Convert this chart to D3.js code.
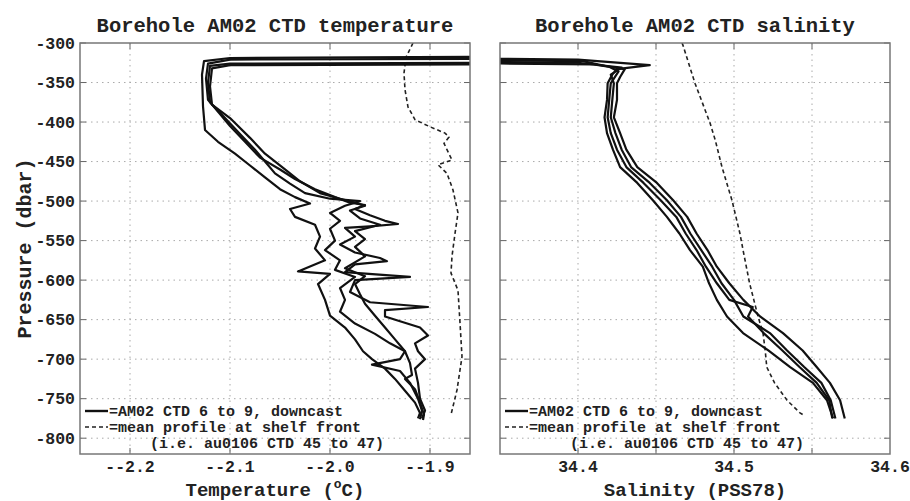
<!DOCTYPE html>
<html>
<head>
<meta charset="utf-8">
<script src="https://cdn.jsdelivr.net/npm/d3@7.9.0/dist/d3.min.js"></script>
<style>
  body { margin: 0; background: #fff; }
  text { font-family: "Courier New", "Liberation Mono", monospace; font-weight: bold; fill: #222; }
</style>
</head>
<body>
<svg id="chart" width="910" height="501"></svg>
<script>
// ---- data ----
const pressureTicks = [-300, -350, -400, -450, -500, -550, -600, -650, -700, -750, -800];
const tempTicks     = [-2.2, -2.1, -2.0, -1.9];
const tempTickLabels = ['--2.2', '--2.1', '--2.0', '--1.9'];
const salTicks      = [34.4, 34.5, 34.6];
const salTickLabels = ['34.4', '34.5', '34.6'];
const salGrid       = [34.4, 34.45, 34.5, 34.55];

// temperature casts, [T, p]
const tempCast6 = [[-1.60,-316],[-2.10,-319],[-2.126,-323],[-2.128,-340],[-2.127,-380],[-2.125,-410],[-2.112,-425],
  [-2.095,-440],[-2.08,-455],[-2.065,-470],[-2.05,-485],[-2.035,-495],[-2.02,-503],[-2.04,-510],[-2.035,-520],
  [-2.015,-530],[-2.01,-545],[-2.015,-560],[-2.005,-575],[-2.032,-589],[-2.0,-592],[-2.012,-605],[-2.005,-625],
  [-2.0,-645],[-1.985,-660],[-1.975,-675],[-1.967,-690],[-1.958,-700],[-1.945,-712],[-1.935,-725],[-1.925,-740],
  [-1.915,-755],[-1.91,-768],[-1.912,-775]];
const tempCast7 = [[-1.40,-318],[-2.10,-321],[-2.122,-326],[-2.124,-345],[-2.122,-372],[-2.11,-390],[-2.10,-405],
  [-2.085,-425],[-2.07,-445],[-2.05,-460],[-2.035,-472],[-2.015,-485],[-1.995,-495],[-1.98,-502],[-1.965,-505],
  [-1.975,-510],[-1.96,-518],[-1.945,-525],[-1.932,-529],[-1.96,-532],[-1.985,-534],[-1.975,-545],[-1.99,-555],
  [-1.975,-565],[-1.95,-572],[-1.943,-576],[-1.975,-580],[-1.985,-590],[-1.92,-596],[-1.975,-600],[-1.98,-615],
  [-1.96,-628],[-1.902,-634],[-1.945,-638],[-1.945,-646],[-1.93,-652],[-1.91,-660],[-1.902,-670],[-1.915,-680],
  [-1.912,-690],[-1.905,-700],[-1.915,-712],[-1.912,-730],[-1.91,-750],[-1.905,-765],[-1.908,-775]];
const tempCast8 = [[-1.50,-324],[-2.10,-326],[-2.12,-329],[-2.122,-350],[-2.12,-375],[-2.105,-395],[-2.09,-415],
  [-2.075,-435],[-2.065,-450],[-2.055,-465],[-2.04,-478],[-2.025,-490],[-2.0,-497],[-1.97,-500],[-1.985,-506],
  [-2.0,-515],[-1.99,-525],[-2.0,-535],[-1.995,-550],[-2.005,-562],[-1.99,-575],[-1.995,-587],[-1.975,-596],
  [-1.99,-610],[-1.985,-625],[-1.99,-640],[-1.975,-655],[-1.955,-668],[-1.94,-680],[-1.925,-690],[-1.93,-700],
  [-1.958,-707],[-1.93,-715],[-1.92,-730],[-1.912,-750],[-1.908,-765],[-1.91,-776]];
const tempCast9 = [[-1.50,-326],[-2.10,-328],[-2.118,-332],[-2.12,-355],[-2.118,-378],[-2.1,-395],[-2.08,-420],
  [-2.065,-440],[-2.045,-460],[-2.03,-475],[-2.01,-490],[-1.99,-497],[-1.975,-502],[-1.965,-506],[-1.98,-512],
  [-1.97,-522],[-1.95,-530],[-1.975,-538],[-1.965,-548],[-1.975,-558],[-1.965,-570],[-1.985,-585],[-1.965,-595],
  [-1.975,-605],[-1.97,-618],[-1.965,-630],[-1.955,-645],[-1.945,-660],[-1.935,-675],[-1.925,-690],[-1.92,-705],
  [-1.918,-720],[-1.925,-725],[-1.915,-738],[-1.91,-755],[-1.906,-770],[-1.907,-777]];
const tempMean = [[-1.917,-300],[-1.924,-318],[-1.926,-338],[-1.925,-359],[-1.922,-381],[-1.915,-397],[-1.900,-406],
  [-1.885,-414],[-1.881,-419],[-1.886,-427],[-1.883,-435],[-1.878,-448],[-1.892,-454],[-1.883,-465],[-1.877,-486],
  [-1.872,-515],[-1.875,-541],[-1.878,-570],[-1.879,-591],[-1.872,-613],[-1.870,-654],[-1.868,-697],[-1.873,-739],
  [-1.878,-765],[-1.879,-770]];

// salinity casts, [S, p]
const salCast6 = [[34.25,-318],[34.40,-321],[34.446,-328],[34.425,-333],[34.422,-340],[34.419,-351],[34.4186,-372],
  [34.417,-394],[34.4186,-414],[34.4224,-435],[34.427,-457],[34.438,-477],[34.448,-499],[34.457,-520],[34.465,-541],
  [34.4718,-562],[34.480,-583],[34.484,-604],[34.489,-625],[34.4955,-646],[34.5058,-667],[34.522,-689],[34.536,-710],
  [34.5506,-730],[34.5596,-752],[34.5635,-775]];
const salCast7 = [[34.25,-320],[34.403,-323],[34.42,-330],[34.426,-336],[34.421,-351],[34.420,-372],[34.419,-394],
  [34.421,-414],[34.425,-435],[34.431,-457],[34.442,-477],[34.453,-499],[34.463,-520],[34.469,-541],[34.476,-562],
  [34.482,-583],[34.489,-604],[34.497,-625],[34.512,-634],[34.509,-646],[34.519,-667],[34.531,-689],[34.542,-710],
  [34.553,-730],[34.561,-752],[34.563,-775]];
const salCast8 = [[34.25,-322],[34.40,-325],[34.428,-331],[34.421,-340],[34.423,-351],[34.422,-372],[34.421,-394],
  [34.424,-414],[34.428,-435],[34.434,-457],[34.446,-477],[34.457,-499],[34.466,-520],[34.472,-541],[34.479,-562],
  [34.486,-583],[34.492,-604],[34.500,-625],[34.506,-646],[34.523,-667],[34.534,-689],[34.545,-710],[34.556,-730],
  [34.562,-752],[34.565,-775]];
const salCast9 = [[34.25,-324],[34.41,-327],[34.43,-333],[34.427,-343],[34.425,-351],[34.425,-372],[34.423,-394],
  [34.427,-414],[34.431,-435],[34.438,-457],[34.4506,-477],[34.461,-499],[34.470,-520],[34.476,-541],[34.483,-562],
  [34.489,-583],[34.497,-604],[34.506,-625],[34.5167,-646],[34.5314,-667],[34.544,-689],[34.553,-710],
  [34.5615,-730],[34.568,-752],[34.571,-775]];
const salMean = [[34.4667,-300],[34.4673,-303],[34.475,-351],[34.4846,-401],[34.488,-423],[34.4923,-457],
  [34.4987,-499],[34.5038,-541],[34.5058,-562],[34.510,-604],[34.5154,-646],[34.5186,-667],[34.520,-689],
  [34.521,-710],[34.526,-730],[34.534,-752],[34.5423,-768],[34.544,-770]];

const legendLines = ['=AM02 CTD 6 to 9, downcast', '=mean profile at shelf front', '(i.e. au0106 CTD 45 to 47)'];

// ---- layout ----
const plotTop = 43, plotBottom = 454;
const svg = d3.select('#chart');
const y  = d3.scaleLinear().domain([-820, -300]).range([plotBottom, plotTop]);
const xT = d3.scaleLinear().domain([-2.25, -1.86]).range([80, 470]);
const xS = d3.scaleLinear().domain([34.35, 34.6]).range([500, 890]);

function drawPanel(id, x, gridX, ticks, tickLabels, casts, mean, title, xlabel) {
  const [x0, x1] = x.range();
  const g = svg.append('g');

  svg.append('clipPath').attr('id', 'clip-' + id)
    .append('rect').attr('x', x0).attr('y', plotTop).attr('width', x1 - x0).attr('height', plotBottom - plotTop);

  // dotted grid
  g.selectAll('.gx').data(gridX).join('line')
    .attr('x1', d => x(d)).attr('x2', d => x(d)).attr('y1', plotTop).attr('y2', plotBottom)
    .attr('stroke', '#aaa').attr('stroke-width', 1).attr('stroke-dasharray', '1.5,4');
  g.selectAll('.gy').data(pressureTicks.slice(1)).join('line')
    .attr('x1', x0).attr('x2', x1).attr('y1', d => y(d)).attr('y2', d => y(d))
    .attr('stroke', '#aaa').attr('stroke-width', 1).attr('stroke-dasharray', '1.5,4');

  // inward ticks on all sides
  gridX.forEach(d => {
    g.append('line').attr('x1', x(d)).attr('x2', x(d)).attr('y1', plotTop).attr('y2', plotTop + 6).attr('stroke', '#666');
    g.append('line').attr('x1', x(d)).attr('x2', x(d)).attr('y1', plotBottom).attr('y2', plotBottom - 6).attr('stroke', '#666');
  });
  pressureTicks.forEach(d => {
    g.append('line').attr('x1', x0).attr('x2', x0 + 6).attr('y1', y(d)).attr('y2', y(d)).attr('stroke', '#666');
    g.append('line').attr('x1', x1).attr('x2', x1 - 6).attr('y1', y(d)).attr('y2', y(d)).attr('stroke', '#666');
  });

  const line = d3.line().x(d => x(d[0])).y(d => y(d[1]));
  const lines = g.append('g').attr('clip-path', `url(#clip-${id})`);
  lines.append('path').attr('d', line(mean))
    .attr('fill', 'none').attr('stroke', '#222').attr('stroke-width', 1.6).attr('stroke-dasharray', '4,3');
  casts.forEach(c => {
    lines.append('path').attr('d', line(c))
      .attr('fill', 'none').attr('stroke', '#111').attr('stroke-width', 2.2).attr('stroke-linejoin', 'round');
  });

  // frame
  g.append('rect').attr('x', x0).attr('y', plotTop).attr('width', x1 - x0).attr('height', plotBottom - plotTop)
    .attr('fill', 'none').attr('stroke', '#777').attr('stroke-width', 1.5);

  // tick labels
  g.selectAll('.tl').data(ticks).join('text')
    .attr('x', d => x(d)).attr('y', 472).attr('text-anchor', 'middle')
    .style('font-size', '16.5px').text((d, i) => tickLabels[i]);

  const cx = (x0 + x1) / 2;
  g.append('text').attr('x', cx).attr('y', 32).attr('text-anchor', 'middle')
    .style('font-size', '20.5px').text(title);
  const xl = g.append('text').attr('x', cx).attr('y', 496).attr('text-anchor', 'middle').style('font-size', '19px');
  xlabel(xl);

  // legend
  g.append('line').attr('x1', x0 + 5).attr('x2', x0 + 28).attr('y1', 411).attr('y2', 411)
    .attr('stroke', '#111').attr('stroke-width', 2.4);
  g.append('line').attr('x1', x0 + 5).attr('x2', x0 + 28).attr('y1', 427).attr('y2', 427)
    .attr('stroke', '#222').attr('stroke-width', 1.6).attr('stroke-dasharray', '4,3');
  [[29, 416], [29, 432], [70, 448]].forEach(([dx, by], i) => {
    g.append('text').attr('x', x0 + dx).attr('y', by).style('font-size', '15px').text(legendLines[i]);
  });
}

drawPanel('t', xT, tempTicks, tempTicks, tempTickLabels,
  [tempCast6, tempCast7, tempCast8, tempCast9], tempMean,
  'Borehole AM02 CTD temperature',
  t => { t.append('tspan').text('Temperature ('); t.append('tspan').attr('dy', -8).style('font-size', '13px').text('o');
         t.append('tspan').attr('dy', 8).text('C)'); });

drawPanel('s', xS, salGrid, salTicks, salTickLabels,
  [salCast6, salCast7, salCast8, salCast9], salMean,
  'Borehole AM02 CTD salinity',
  t => t.text('Salinity (PSS78)'));

// y axis labels (left panel only)
svg.append('g').selectAll('text').data(pressureTicks).join('text')
  .attr('x', 75).attr('y', d => y(d)).attr('dy', '0.35em').attr('text-anchor', 'end')
  .style('font-size', '16.5px').text(d => d);
svg.append('text').attr('transform', `translate(31,${(plotTop + plotBottom) / 2}) rotate(-90)`)
  .attr('text-anchor', 'middle').style('font-size', '20px').text('Pressure (dbar)');
</script>
</body>
</html>
